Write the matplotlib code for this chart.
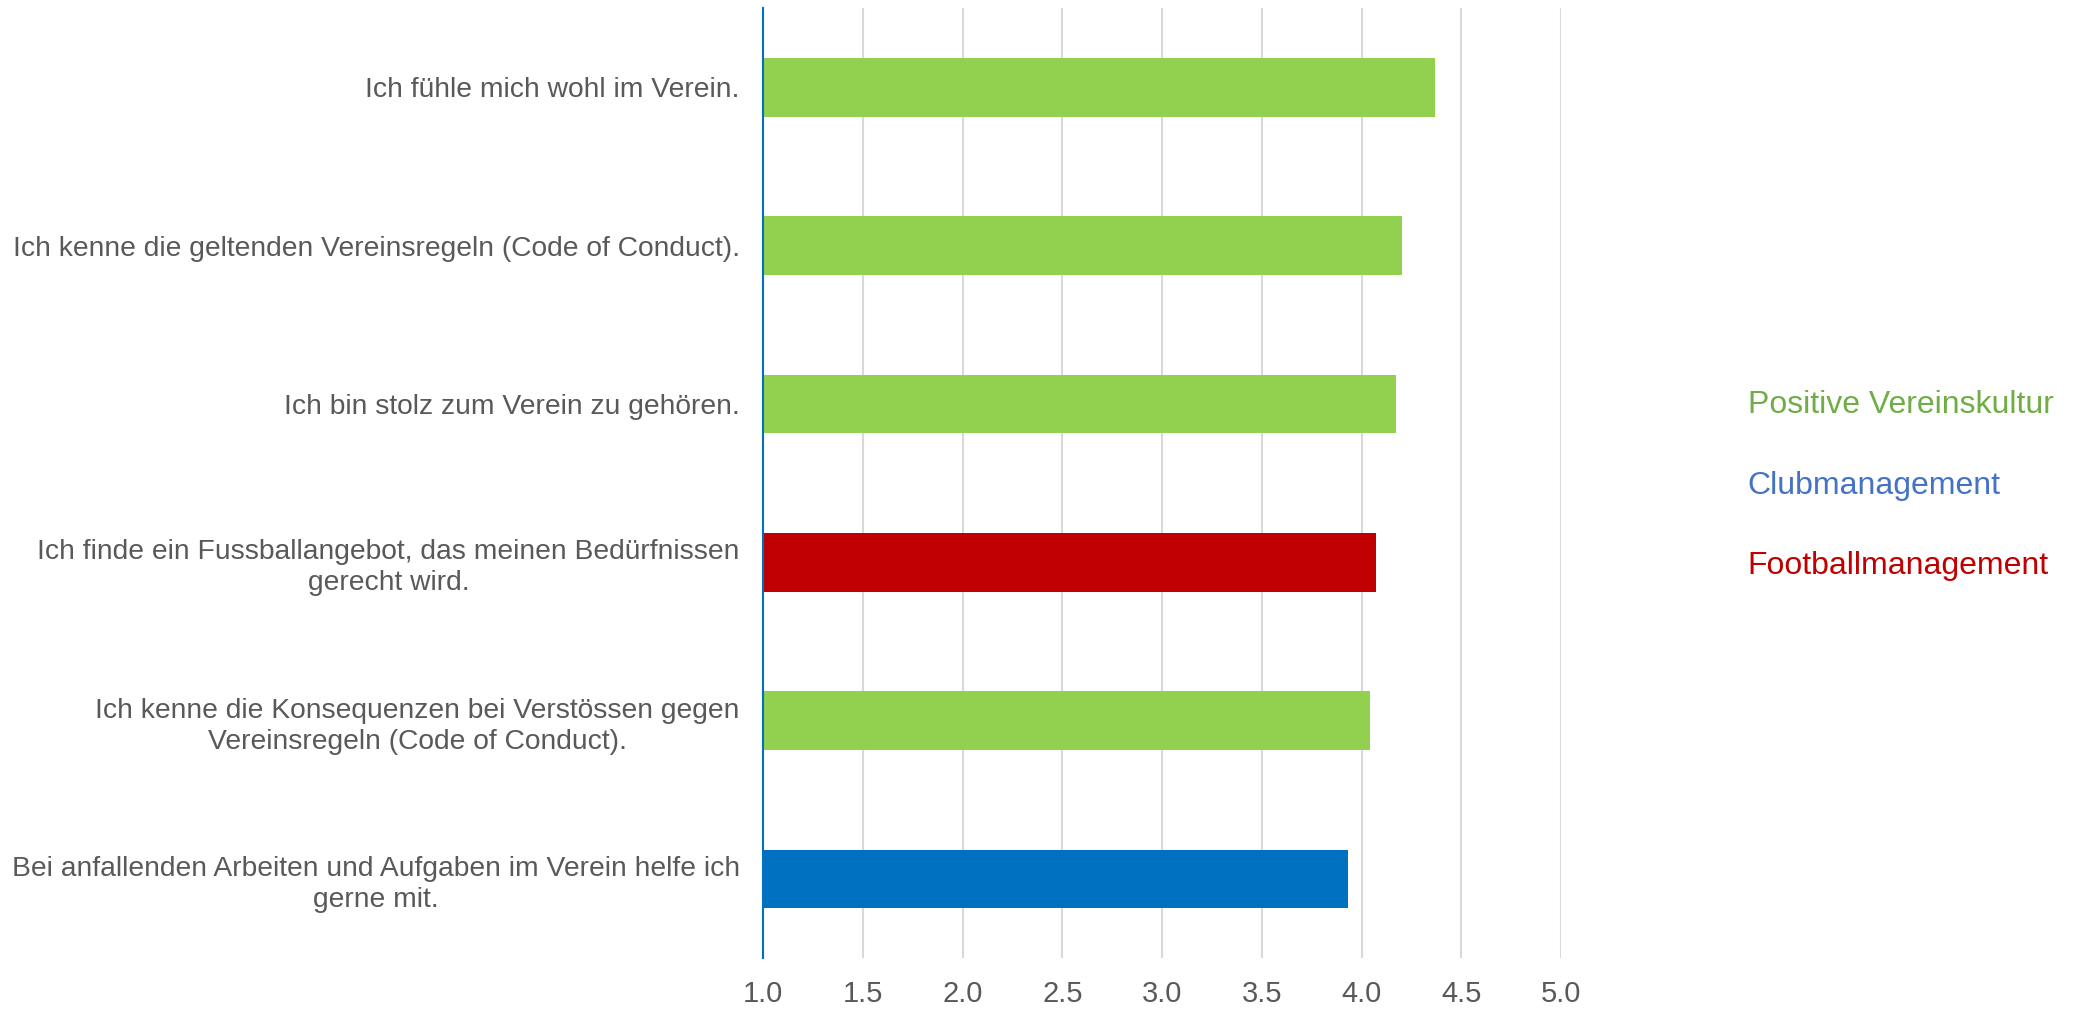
import matplotlib.pyplot as plt
from matplotlib.patches import Patch

plt.rcParams['font.family'] = ['Liberation Sans', 'DejaVu Sans']

# ==========================================
# DATA
# ==========================================

statements = [
    "Ich fühle mich wohl im Verein.",
    "Ich kenne die geltenden Vereinsregeln (Code of Conduct).",
    "Ich bin stolz zum Verein zu gehören.",
    "Ich finde ein Fussballangebot, das meinen Bedürfnissen\ngerecht wird.",
    "Ich kenne die Konsequenzen bei Verstössen gegen\nVereinsregeln (Code of Conduct).",
    "Bei anfallenden Arbeiten und Aufgaben im Verein helfe ich\ngerne mit.",
]
scores = [4.37, 4.20, 4.17, 4.07, 4.04, 3.93]
groups = [
    "Positive Vereinskultur",
    "Positive Vereinskultur",
    "Positive Vereinskultur",
    "Footballmanagement",
    "Positive Vereinskultur",
    "Clubmanagement",
]

group_names = ["Positive Vereinskultur", "Clubmanagement", "Footballmanagement"]
bar_colors = {"Positive Vereinskultur": "#92D050",
              "Clubmanagement": "#0070C0",
              "Footballmanagement": "#C00000"}
text_colors = {"Positive Vereinskultur": "#70AD47",
               "Clubmanagement": "#4472C4",
               "Footballmanagement": "#C00000"}

x_ticks = [1.0, 1.5, 2.0, 2.5, 3.0, 3.5, 4.0, 4.5, 5.0]

# ==========================================
# PLOT
# ==========================================

fig = plt.figure(figsize=(20.8, 10.09), dpi=100)
ax = fig.add_axes([0.367, 0.0505, 0.3835, 0.9415])

ypos = list(range(len(statements)))
ax.barh(
    ypos,
    [s - 1.0 for s in scores],
    left=1.0,
    height=0.37,
    color=[bar_colors[g] for g in groups],
    zorder=3,
)

ax.set_xlim(1.0, 5.0)
ax.set_ylim(len(statements) - 0.5, -0.5)
ax.set_xticks(x_ticks)
ax.set_xticklabels([f"{t:.1f}" for t in x_ticks])
ax.set_yticks(ypos)
ax.set_yticklabels(statements, multialignment="center", linespacing=1.25)

ax.grid(axis="x", color="#D9D9D9", linewidth=1.5, zorder=0)
ax.tick_params(axis="both", length=0, colors="#595959")
ax.tick_params(axis="y", pad=17, labelsize=20.3)
ax.tick_params(axis="x", pad=16, labelsize=21)

for side in ["top", "right", "bottom"]:
    ax.spines[side].set_visible(False)
ax.spines["left"].set_color("#0070C0")
ax.spines["left"].set_linewidth(1.5)
ax.spines["left"].set_zorder(4)

# legend: coloured text only
handles = [Patch(visible=False) for _ in group_names]
leg = ax.legend(
    handles,
    group_names,
    loc="center left",
    bbox_to_anchor=(1.198, 0.497),
    frameon=False,
    handlelength=0,
    handletextpad=0,
    labelspacing=1.58,
    fontsize=23,
    labelcolor=[text_colors[g] for g in group_names],
)

plt.savefig("out.png", dpi=100)
plt.close()
